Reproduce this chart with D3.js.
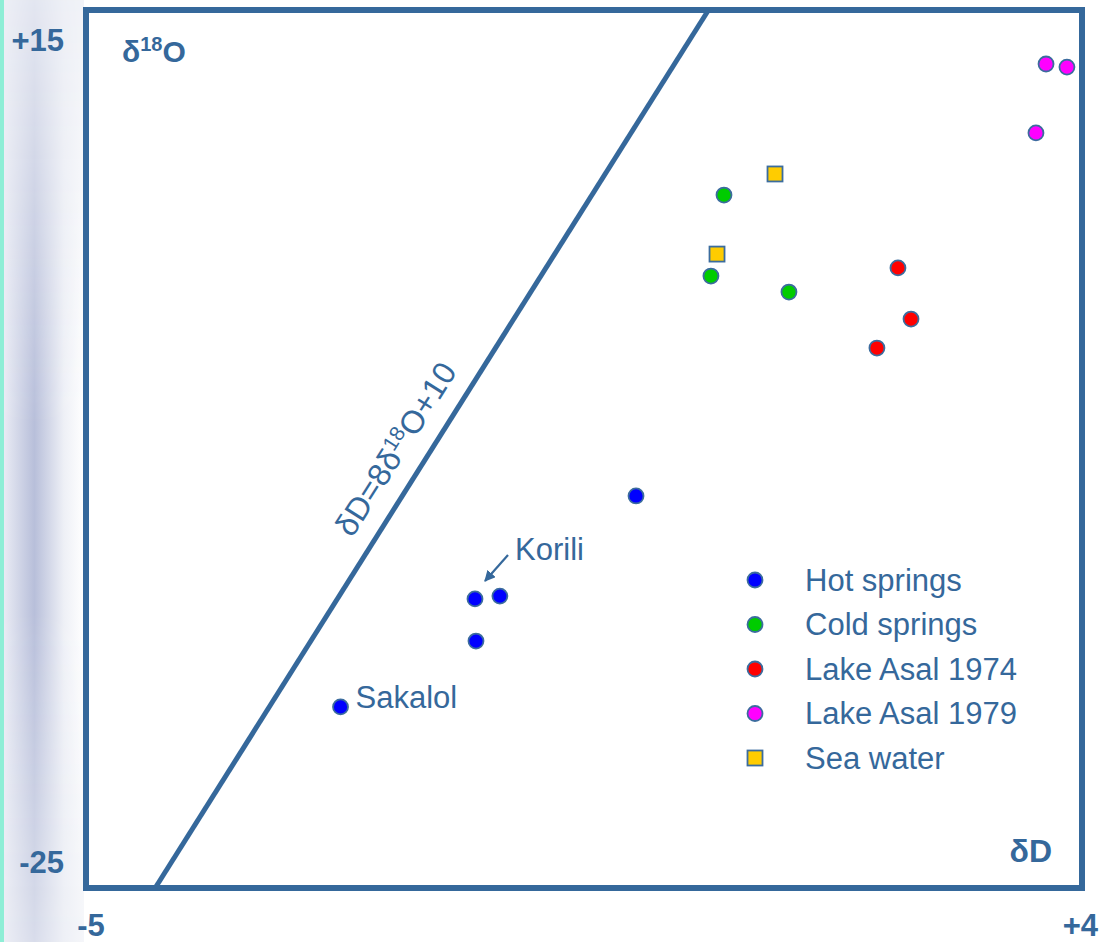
<!DOCTYPE html>
<html>
<head>
<meta charset="utf-8">
<script src="https://cdn.jsdelivr.net/npm/d3@7"></script>
<style>
  html, body { margin: 0; padding: 0; background: #fff; }
  svg { display: block; font-family: Arial, "Liberation Sans", sans-serif; }
</style>
</head>
<body>
<div id="chart"></div>
<script>
// δ18O (x) vs δD (y) values
const hotSprings  = [[-0.03, -7.14], [-1.485, -11.83], [-1.26, -11.70], [-1.476, -13.75], [-2.70, -16.75]];
const coldSprings = [[0.765, 6.57], [0.647, 2.88], [1.352, 2.15]];
const asal1974    = [[2.337, 3.25], [2.455, 0.92], [2.147, -0.40]];
const asal1979    = [[3.675, 12.54], [3.864, 12.40], [3.584, 9.40]];
const seaWater    = [[1.226, 7.53], [0.702, 3.88]];

const seriesNames = ['Hot springs', 'Cold springs', 'Lake Asal 1974', 'Lake Asal 1979', 'Sea water'];
const xTickLabels = ['-5', '+4'];
const yTickLabels = ['+15', '-25'];

const width = 1102, height = 942;
const navy = '#35689b';

const x = d3.scaleLinear().domain([-5, 4]).range([86, 1082]);
const y = d3.scaleLinear().domain([-25, 15]).range([888, 10]);

const svg = d3.select('#chart').append('svg')
  .attr('width', width)
  .attr('height', height);

const defs = svg.append('defs');

// left decorative band
const hg = defs.append('linearGradient').attr('id', 'bandH');
hg.append('stop').attr('offset', '0').attr('stop-color', '#e9ebf4');
hg.append('stop').attr('offset', '0.38').attr('stop-color', '#b8bfda');
hg.append('stop').attr('offset', '0.75').attr('stop-color', '#eef0f6');
hg.append('stop').attr('offset', '1').attr('stop-color', '#ffffff');

const vg = defs.append('linearGradient').attr('id', 'bandV')
  .attr('x1', 0).attr('y1', 0).attr('x2', 0).attr('y2', 1);
vg.append('stop').attr('offset', '0').attr('stop-color', '#fff').attr('stop-opacity', 0.2);
vg.append('stop').attr('offset', '0.45').attr('stop-color', '#fff').attr('stop-opacity', 1);
vg.append('stop').attr('offset', '0.65').attr('stop-color', '#fff').attr('stop-opacity', 1);
vg.append('stop').attr('offset', '1').attr('stop-color', '#fff').attr('stop-opacity', 0.4);

defs.append('mask').attr('id', 'bandMask')
  .append('rect').attr('x', 0).attr('y', 0).attr('width', 90).attr('height', height)
  .attr('fill', 'url(#bandV)');

svg.append('rect').attr('x', 4).attr('y', 0).attr('width', 80).attr('height', height)
  .attr('fill', '#eef0f6');
svg.append('rect').attr('x', 4).attr('y', 0).attr('width', 80).attr('height', height)
  .attr('fill', 'url(#bandH)').attr('mask', 'url(#bandMask)');
svg.append('rect').attr('x', 0).attr('y', 0).attr('width', 4).attr('height', height)
  .attr('fill', '#8eeed6');

// plot frame
svg.append('rect')
  .attr('x', x(-5)).attr('y', y(15))
  .attr('width', x(4) - x(-5)).attr('height', y(-25) - y(15))
  .attr('fill', '#fff')
  .attr('stroke', navy).attr('stroke-width', 6);

// meteoric water line  δD = 8 δ18O + 10
const mwl = d => 8 * d + 10;
const lineX = [(-25 - 10) / 8, (15 - 10) / 8];
svg.append('line')
  .attr('x1', x(lineX[0])).attr('y1', y(mwl(lineX[0])))
  .attr('x2', x(lineX[1])).attr('y2', y(mwl(lineX[1])))
  .attr('stroke', navy).attr('stroke-width', 5);

const ang = Math.atan2(y(mwl(lineX[1])) - y(mwl(lineX[0])), x(lineX[1]) - x(lineX[0])) * 180 / Math.PI;
const mwlText = svg.append('text')
  .attr('transform', `translate(${x(-2.118)},${y(-5.27)}) rotate(${ang})`)
  .attr('text-anchor', 'middle')
  .attr('fill', navy)
  .attr('font-size', 32);
mwlText.append('tspan').text('δD=8δ');
mwlText.append('tspan').attr('font-size', 21).attr('dy', -11).text('18');
mwlText.append('tspan').attr('dy', 11).text('O+10');

// axis corner labels
const cornerLabel = (px, py, anchor, txt) => svg.append('text')
  .attr('x', px).attr('y', py).attr('text-anchor', anchor)
  .attr('dominant-baseline', 'central').attr('font-weight', 'bold').attr('font-size', 31)
  .attr('fill', navy).text(txt);
cornerLabel(64, y(15) + 30, 'end', yTickLabels[0]);
cornerLabel(64, y(-25) - 26, 'end', yTickLabels[1]);
cornerLabel(x(-5) + 5, 925, 'middle', xTickLabels[0]);
cornerLabel(x(4) + 16, 925, 'end', xTickLabels[1]);

const d18 = svg.append('text').attr('x', 122).attr('y', 62)
  .attr('font-weight', 'bold').attr('font-size', 30).attr('fill', navy);
d18.append('tspan').text('δ');
d18.append('tspan').attr('font-size', 20).attr('dy', -11).text('18');
d18.append('tspan').attr('dy', 11).text('O');

svg.append('text').attr('x', 1052).attr('y', 862).attr('text-anchor', 'end')
  .attr('font-weight', 'bold').attr('font-size', 32).attr('fill', navy).text('δD');

// data points
const circleSeries = [
  { data: hotSprings, color: '#0000ff' },
  { data: coldSprings, color: '#00cc00' },
  { data: asal1974, color: '#ff0000' },
  { data: asal1979, color: '#ff00ff' }
];

circleSeries.forEach(s => {
  svg.append('g').selectAll('circle')
    .data(s.data)
    .join('circle')
    .attr('cx', d => x(d[0]))
    .attr('cy', d => y(d[1]))
    .attr('r', 7.5)
    .attr('fill', s.color)
    .attr('stroke', '#3b6c9e')
    .attr('stroke-width', 1.8);
});

svg.append('g').selectAll('rect')
  .data(seaWater)
  .join('rect')
  .attr('x', d => x(d[0]) - 7.5)
  .attr('y', d => y(d[1]) - 7.5)
  .attr('width', 15).attr('height', 15)
  .attr('fill', '#ffcc00')
  .attr('stroke', '#3b6c9e')
  .attr('stroke-width', 1.8);

// annotations
svg.append('text').attr('x', x(hotSprings[4][0]) + 15).attr('y', y(hotSprings[4][1]) - 9)
  .attr('dominant-baseline', 'central').attr('font-size', 31).attr('fill', navy).text('Sakalol');
svg.append('text').attr('x', 515).attr('y', 549)
  .attr('dominant-baseline', 'central').attr('font-size', 31).attr('fill', navy).text('Korili');

defs.append('marker').attr('id', 'arrow')
  .attr('viewBox', '0 0 10 10').attr('refX', 9).attr('refY', 5)
  .attr('markerWidth', 5).attr('markerHeight', 5).attr('orient', 'auto')
  .append('path').attr('d', 'M0,0 L10,5 L0,10 Z').attr('fill', navy);
svg.append('line')
  .attr('x1', 508).attr('y1', 555)
  .attr('x2', x(hotSprings[1][0]) + 10).attr('y2', y(hotSprings[1][1]) - 18)
  .attr('stroke', navy).attr('stroke-width', 2.2)
  .attr('marker-end', 'url(#arrow)');

// legend
const legendColors = ['#0000ff', '#00cc00', '#ff0000', '#ff00ff', '#ffcc00'];
const legend = svg.append('g').attr('transform', 'translate(755,580)');
const rows = legend.selectAll('g')
  .data(seriesNames)
  .join('g')
  .attr('transform', (d, i) => `translate(0,${i * 44.5})`);
rows.each(function (d, i) {
  const g = d3.select(this);
  if (i === 4) {
    g.append('rect').attr('x', -7.5).attr('y', -7.5).attr('width', 15).attr('height', 15)
      .attr('fill', legendColors[i]).attr('stroke', '#3b6c9e').attr('stroke-width', 1.8);
  } else {
    g.append('circle').attr('r', 7.5).attr('fill', legendColors[i])
      .attr('stroke', '#3b6c9e').attr('stroke-width', 1.8);
  }
  g.append('text').attr('x', 50).attr('dominant-baseline', 'central')
    .attr('font-size', 31).attr('fill', navy).text(d);
});
</script>
</body>
</html>
